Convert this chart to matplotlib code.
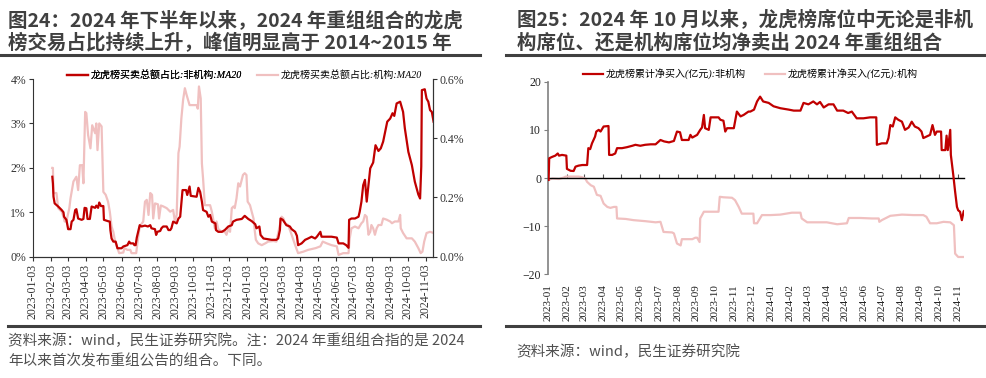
import matplotlib
matplotlib.use('Agg')
import matplotlib.pyplot as plt
import matplotlib.dates as mdates
from matplotlib.lines import Line2D
from matplotlib.ticker import FuncFormatter
import pandas as pd

# ---- data ----
# left chart: day offsets from 2023-01-03, values in %
left_base = '2023-01-03'
nonins_days = [33, 34, 35, 37, 43, 49, 52, 53, 57, 60, 64, 66, 69, 72, 74, 77, 83, 86, 88, 91, 93, 97, 100, 106,
               108, 111, 113, 116, 120, 121, 128, 131, 132, 134, 137, 141, 144, 151, 154, 161, 164, 166, 171, 173,
               175, 177, 182, 185, 191, 196, 200, 202, 208, 210, 212, 217, 219, 222, 228, 231, 234, 236, 239, 245,
               248, 251, 253, 255, 261, 263, 267, 269, 279, 282, 285, 288, 290, 296, 299, 302, 305, 311, 312, 316,
               322, 327, 333, 339,
               341, 347, 356, 361, 367, 373, 379, 381, 386, 388, 393, 398, 407, 415, 418, 421, 422, 426, 432, 438,
               441, 447, 450, 452, 458, 464, 469, 475, 481, 484, 490, 492, 501, 509, 518, 521, 529, 534, 538, 539,
               543, 549, 555, 557, 560, 563, 566, 569, 572, 575, 580, 584, 589, 593, 597, 600, 604, 609, 613, 616,
               620, 626, 631, 634, 640, 646, 651, 657, 660, 662, 663, 668, 671, 674, 677, 680, 683]
nonins_share = [1.80, 1.65, 1.35, 1.20, 1.13, 1.05, 1.00, 0.90, 0.83, 0.62, 0.62, 0.79, 0.83, 1.05, 1.07, 0.86,
                0.83, 0.85, 1.10, 1.09, 0.85, 0.85, 1.13, 1.10, 1.15, 1.10, 1.22, 1.14, 1.14, 0.83, 0.80, 0.79,
                0.60, 0.41, 0.34, 0.34, 0.19, 0.19, 0.23, 0.26, 0.34, 0.30, 0.30, 0.26, 0.26, 0.43, 0.71, 0.68,
                0.70, 0.68, 0.71, 0.64, 0.62, 0.49, 0.56, 0.58, 0.64, 0.68, 0.68, 0.60, 0.60, 0.64, 0.79, 0.75,
                0.86, 0.90, 1.20, 1.50, 1.50, 1.39, 1.58, 1.37, 1.35, 1.55, 1.46, 1.24, 1.05, 1.01, 0.90, 0.94,
                0.79, 0.75, 0.60, 0.56, 0.56, 0.60, 0.68, 0.71,
                0.79, 0.83, 0.85, 0.92, 0.85, 0.80, 0.73, 0.64, 0.68, 0.49, 0.41, 0.40, 0.38, 0.38, 0.41, 0.60,
                0.86, 0.83, 0.71, 0.68, 0.62, 0.56, 0.47, 0.26, 0.30, 0.38, 0.41, 0.45, 0.41, 0.45, 0.56, 0.45,
                0.45, 0.45, 0.43, 0.30, 0.30, 0.26, 0.20, 0.83, 0.86, 0.86, 0.90, 1.01, 1.24, 1.61, 1.73, 1.24,
                1.61, 1.99, 2.12, 2.51, 2.38, 2.44, 2.59, 2.78, 3.04, 3.11, 3.23, 3.17, 3.45, 3.49, 3.26, 2.89,
                2.36, 2.06, 1.69, 1.40, 1.31, 2.03, 3.75, 3.77, 3.56, 3.49, 3.30, 3.26, 3.04]

ins_days = [33, 34, 35, 40, 43, 49, 52, 54, 57, 62, 64, 69, 74, 77, 80, 84, 86, 89, 91, 94, 98, 101, 106, 108, 110,
            113, 117, 120, 124, 128, 131, 134, 137, 140, 144, 147, 154, 156, 161, 166, 168, 176, 178, 182, 188, 191,
            194, 197, 200, 203, 205, 208, 213, 215, 218, 222, 228, 234, 239, 242, 245, 248, 250, 253, 256, 259, 262,
            267, 276, 279, 281, 283, 286, 288, 290, 293, 302, 305, 307, 310, 313, 316, 322, 327, 330, 333, 336, 339,
            342, 344, 347, 350, 353, 358, 361, 364, 366, 370, 376, 378, 380, 384, 390, 396, 401, 410, 415, 421, 424,
            427, 430, 435, 441, 447, 452, 461, 469, 482, 490, 494, 501, 509, 518, 521, 529, 538, 540, 543, 549, 555,
            560, 563, 566, 569, 572, 575, 577, 580, 583, 586, 589, 594, 597, 603, 609, 612, 617, 623, 626, 627, 631,
            637, 646, 651, 657, 661, 664, 667, 671, 677, 683]
ins_share = [0.300, 0.300, 0.215, 0.215, 0.164, 0.152, 0.135, 0.119, 0.119, 0.164, 0.197, 0.254, 0.270, 0.225,
             0.309, 0.309, 0.248, 0.489, 0.485, 0.411, 0.366, 0.444, 0.417, 0.450, 0.360, 0.450, 0.440, 0.219,
             0.209, 0.186, 0.152, 0.102, 0.084, 0.051, 0.029, 0.012, 0.014, 0.029, 0.023, 0.023, 0.012, 0.012,
             0.045, 0.102, 0.119, 0.186, 0.192, 0.141, 0.215, 0.209, 0.129, 0.180, 0.177, 0.129, 0.173, 0.170,
             0.164, 0.152, 0.158, 0.119, 0.141, 0.350, 0.372, 0.467, 0.530, 0.569, 0.546, 0.512, 0.512, 0.512,
             0.500, 0.575, 0.534, 0.315, 0.264, 0.174, 0.174, 0.152, 0.129, 0.096, 0.119, 0.093, 0.084, 0.084,
             0.074, 0.096, 0.084, 0.164,
             0.170, 0.164, 0.197, 0.248, 0.237, 0.276, 0.282, 0.276, 0.186, 0.174, 0.129, 0.090, 0.057, 0.045,
             0.039, 0.045, 0.051, 0.053, 0.051, 0.107, 0.135, 0.129, 0.113, 0.107, 0.074, 0.039, 0.012, 0.017,
             0.023, 0.029, 0.035, 0.051, 0.045, 0.039, 0.035, 0.006, 0.012, 0.012, 0.062, 0.096, 0.102, 0.096,
             0.113, 0.119, 0.141, 0.135, 0.074, 0.084, 0.107, 0.096, 0.074, 0.096, 0.107, 0.107, 0.129, 0.125,
             0.119, 0.113, 0.119, 0.119, 0.141, 0.096, 0.080, 0.062, 0.062, 0.051, 0.029, 0.012, 0.017, 0.051,
             0.080, 0.084, 0.080]

# right chart: day offsets from 2023-01-01, cumulative net buy (亿元)
right_base = '2023-01-01'
nonins_net_days = [1, 2, 7, 12, 16, 18, 23, 30, 31, 37, 42, 45, 50, 56, 64, 66, 69, 72, 77, 79, 83, 86, 91, 99,
                   100, 105, 110, 113, 121, 129, 138, 143, 151, 159, 168, 176, 184, 190, 198, 206, 211, 216, 219,
                   230, 233, 236, 244, 249, 252, 255, 257, 263, 266, 279, 282, 287, 290, 293, 304, 309, 315, 320,
                   328, 331, 337, 342, 347, 352, 361, 369, 380, 394, 402, 413, 418, 426, 434, 440, 445, 451, 459,
                   467, 473, 483, 491, 497, 505, 516, 527, 537, 538, 546, 554, 557, 560, 564, 568, 573, 579, 584,
                   590, 595, 600, 606, 611, 614, 619, 625, 629, 633, 636, 643, 644, 650, 652, 654, 658, 659, 663,
                   666, 669, 671, 674, 677, 680, 682]
nonins_net = [-0.4, 4.1, 4.4, 4.65, 5.1, 4.65, 4.8, 4.65, 1.9, 1.5, 1.46, 2.36, 2.57, 2.7, 2.7, 6.2, 6.0, 7.2, 8.6,
              9.65, 10.0, 9.65, 10.7, 10.8, 4.8, 4.8, 5.1, 6.2, 6.2, 6.4, 6.7, 6.9, 6.7, 6.9, 7.0, 7.0, 7.9, 7.6,
              7.4, 7.7, 9.65, 9.5, 7.9, 7.9, 8.96, 8.4, 8.96, 10.0, 10.5, 13.1, 10.35, 10.0, 12.6, 12.6, 12.1,
              11.9, 9.65, 10.35, 10.35, 13.8, 12.8, 13.1, 13.8, 13.8, 14.2, 15.9, 16.9, 15.9, 15.6, 14.9, 14.5,
              14.2, 14.0, 14.0, 15.6, 15.3, 15.9, 15.3, 15.8, 14.65, 15.3, 15.3, 14.0, 14.0, 13.5, 13.8, 12.4,
              12.4, 12.6, 12.6, 6.9, 7.2, 7.2, 8.3, 11.0, 10.7, 12.6, 12.1, 11.7, 10.0, 10.5, 11.7, 10.7, 10.35,
              9.65, 8.3, 8.6, 8.96, 11.0, 8.96, 9.65, 9.65, 5.8, 5.8, 8.8, 5.8, 10.0, 4.8, 0.6, -2.85, -6.0, -6.7,
              -7.0, -8.75, -6.9, -6.7]

ins_net_days = [1, 7, 18, 26, 29, 40, 50, 55, 61, 64, 70, 75, 80, 86, 91, 97, 102, 108, 112, 113, 127, 140, 159,
                176, 184, 189, 203, 206, 211, 217, 219, 236, 241, 244, 248, 249, 252, 255, 268, 279, 281, 287, 301,
                306, 312, 317, 328, 336, 337, 342, 350, 364, 380, 399, 413, 415, 424, 440, 456, 473, 489, 492, 511,
                530, 541, 542, 546, 560, 579, 598, 614, 619, 625, 636, 647, 658, 664, 666, 671, 682]
ins_net = [-0.4, -0.1, -0.2, 0.1, 0.3, 0.3, 0.3, 0.2, -0.1, -0.8, -1.5, -1.8, -3.5, -3.7, -5.3, -6.0, -6.2, -6.0,
           -6.0, -8.4, -8.5, -8.75, -8.96, -9.2, -9.1, -11.2, -11.3, -11.5, -13.6, -14.0, -12.7, -12.7, -12.4,
           -12.4, -13.3, -8.4, -7.7, -7.0, -7.0, -7.0, -3.9, -4.0, -4.1, -4.6, -6.0, -7.4, -7.4, -7.4, -9.4,
           -9.4, -7.7, -7.7, -7.6, -7.2, -7.2, -8.4, -9.2, -9.2, -9.2, -9.6, -9.4, -8.3, -8.3, -8.4, -8.4, -9.1,
           -8.75, -7.85, -7.6, -7.7, -7.7, -8.05, -9.4, -9.4, -9.1, -9.2, -9.8, -15.7, -16.4, -16.4]

left_title = ['图24：2024 年下半年以来，2024 年重组组合的龙虎', '榜交易占比持续上升，峰值明显高于 2014~2015 年']
right_title = ['图25：2024 年 10 月以来，龙虎榜席位中无论是非机', '构席位、还是机构席位均净卖出 2024 年重组组合']
left_note = ['资料来源：wind，民生证券研究院。注：2024 年重组组合指的是 2024', '年以来首次发布重组公告的组合。下同。']
right_note = '资料来源：wind，民生证券研究院'
labels_left = ['龙虎榜买卖总额占比:非机构:MA20', '龙虎榜买卖总额占比:机构:MA20']
labels_right = ['龙虎榜累计净买入(亿元):非机构', '龙虎榜累计净买入(亿元):机构']

RED = '#C00000'
PINK = '#F0C0C0'
GREY = '#404040'
CJK = ['Noto Sans CJK SC', 'DejaVu Sans']
LEG = ['Liberation Serif', 'Noto Sans CJK SC']

plt.rcParams['font.family'] = 'serif'
plt.rcParams['font.serif'] = ['Liberation Serif', 'DejaVu Serif']

fig = plt.figure(figsize=(9.87, 3.78), dpi=100)

def to_dates(base, days):
    return pd.Timestamp(base) + pd.to_timedelta(days, unit='D')

# ---------------- left panel ----------------
ax = fig.add_axes([0.0334, 0.3209, 0.4053, 0.470])
ax2 = ax.twinx()
ax.set_zorder(ax2.get_zorder() + 1)
ax.patch.set_visible(False)

l1, = ax.plot(to_dates(left_base, nonins_days), nonins_share, color=RED, lw=1.6)
l2, = ax2.plot(to_dates(left_base, ins_days), ins_share, color=PINK, lw=1.6)

ax.set_xlim(pd.Timestamp(left_base), pd.Timestamp(left_base) + pd.Timedelta(days=682))
ax.set_ylim(0, 4)
ax2.set_ylim(0, 0.6)
ax.set_yticks([0, 1, 2, 3, 4])
ax2.set_yticks([0, 0.2, 0.4, 0.6])
ax.yaxis.set_major_formatter(FuncFormatter(lambda v, p: f'{v:.0f}%'))
ax2.yaxis.set_major_formatter(FuncFormatter(lambda v, p: f'{v:.1f}%'))
ax.xaxis.set_major_locator(mdates.MonthLocator(bymonthday=3))
ax.xaxis.set_major_formatter(mdates.DateFormatter('%Y-%m-%d'))
for a in (ax, ax2):
    a.spines['top'].set_visible(False)
    for s in a.spines.values():
        s.set_color('#333333')
        s.set_linewidth(0.8)
    a.tick_params(labelsize=8.5, colors='#333333', length=3, width=0.8, pad=2)
ax.tick_params(axis='x', rotation=90)
ax2.spines['left'].set_visible(False)

leg1 = ax.legend([l1], [labels_left[0]], loc='center left', bbox_to_anchor=(0.085, 1.022), frameon=False,
                 borderpad=0, borderaxespad=0, handlelength=2.1, handletextpad=0.3,
                 prop={'family': LEG, 'size': 7.2, 'style': 'italic'})
ax.add_artist(leg1)
ax2.legend([l2], [labels_left[1]], loc='center left', bbox_to_anchor=(0.56, 1.022), frameon=False,
           borderpad=0, borderaxespad=0, handlelength=2.1, handletextpad=0.3,
           prop={'family': LEG, 'size': 7.2, 'style': 'italic'})

# ---------------- right panel ----------------
bx = fig.add_axes([0.5552, 0.2743, 0.4218, 0.5095])
r1, = bx.plot(to_dates(right_base, nonins_net_days), nonins_net, color=RED, lw=1.6, zorder=3)
r2, = bx.plot(to_dates(right_base, ins_net_days), ins_net, color=PINK, lw=1.6, zorder=2)
bx.set_xlim(pd.Timestamp(right_base), pd.Timestamp(right_base) + pd.Timedelta(days=681))
bx.set_ylim(-20, 20)
bx.set_yticks([-20, -10, 0, 10, 20])
bx.spines['top'].set_visible(False)
bx.spines['right'].set_visible(False)
bx.spines['left'].set_color('#808080')
bx.spines['left'].set_linewidth(1.2)
bx.spines['bottom'].set_position(('data', 0))
bx.spines['bottom'].set_color('black')
bx.spines['bottom'].set_linewidth(1.0)
bx.xaxis.set_major_locator(mdates.MonthLocator())
bx.tick_params(axis='x', direction='in', length=3, width=0.8, labelbottom=False, color='#555555')
bx.tick_params(axis='y', labelsize=8.5, colors='#222222', length=3, width=0.8, pad=2)
bx.tick_params(axis='y', color='#808080')
sec = bx.secondary_xaxis('bottom')
sec.xaxis.set_major_locator(mdates.MonthLocator())
sec.xaxis.set_major_formatter(mdates.DateFormatter('%Y-%m'))
sec.tick_params(length=0, labelsize=8, colors='#222222', rotation=90, pad=7)
sec.spines['bottom'].set_visible(False)

leg_b = bx.legend([r1], [labels_right[0]], loc='center left', bbox_to_anchor=(0.083, 1.04), frameon=False,
                  borderpad=0, borderaxespad=0, handlelength=2.0, handletextpad=0.3,
                  prop={'family': LEG, 'size': 7.2, 'style': 'italic'})
bx.add_artist(leg_b)
bx.legend([r2], [labels_right[1]], loc='center left', bbox_to_anchor=(0.521, 1.04), frameon=False,
          borderpad=0, borderaxespad=0, handlelength=2.0, handletextpad=0.3,
          prop={'family': LEG, 'size': 7.2, 'style': 'italic'})

# ---------------- titles, rules, notes ----------------
for i, t in enumerate(left_title):
    fig.text(0.008, 0.947 - i * 0.061, t, family=CJK, fontsize=14, fontweight='bold', color=GREY,
             va='center', ha='left')
for i, t in enumerate(right_title):
    fig.text(0.5235, 0.947 - i * 0.061, t, family=CJK, fontsize=14, fontweight='bold', color=GREY,
             va='center', ha='left')

fig.add_artist(Line2D([0.0, 0.486], [0.8545, 0.8545], color=GREY, lw=2.2))
fig.add_artist(Line2D([0.5127, 1.0], [0.8545, 0.8545], color=GREY, lw=2.2))
fig.add_artist(Line2D([0.008, 0.486], [0.1384, 0.1384], color=GREY, lw=2.2))
fig.add_artist(Line2D([0.5127, 1.0], [0.1384, 0.1384], color=GREY, lw=2.2))

for i, t in enumerate(left_note):
    fig.text(0.008, 0.0987 - i * 0.0556, t, family=CJK, fontsize=10.5, color='#505050', va='center', ha='left')
fig.text(0.523, 0.069, right_note, family=CJK, fontsize=10.5, color='#505050', va='center', ha='left')

fig.savefig('out.png', dpi=100)
